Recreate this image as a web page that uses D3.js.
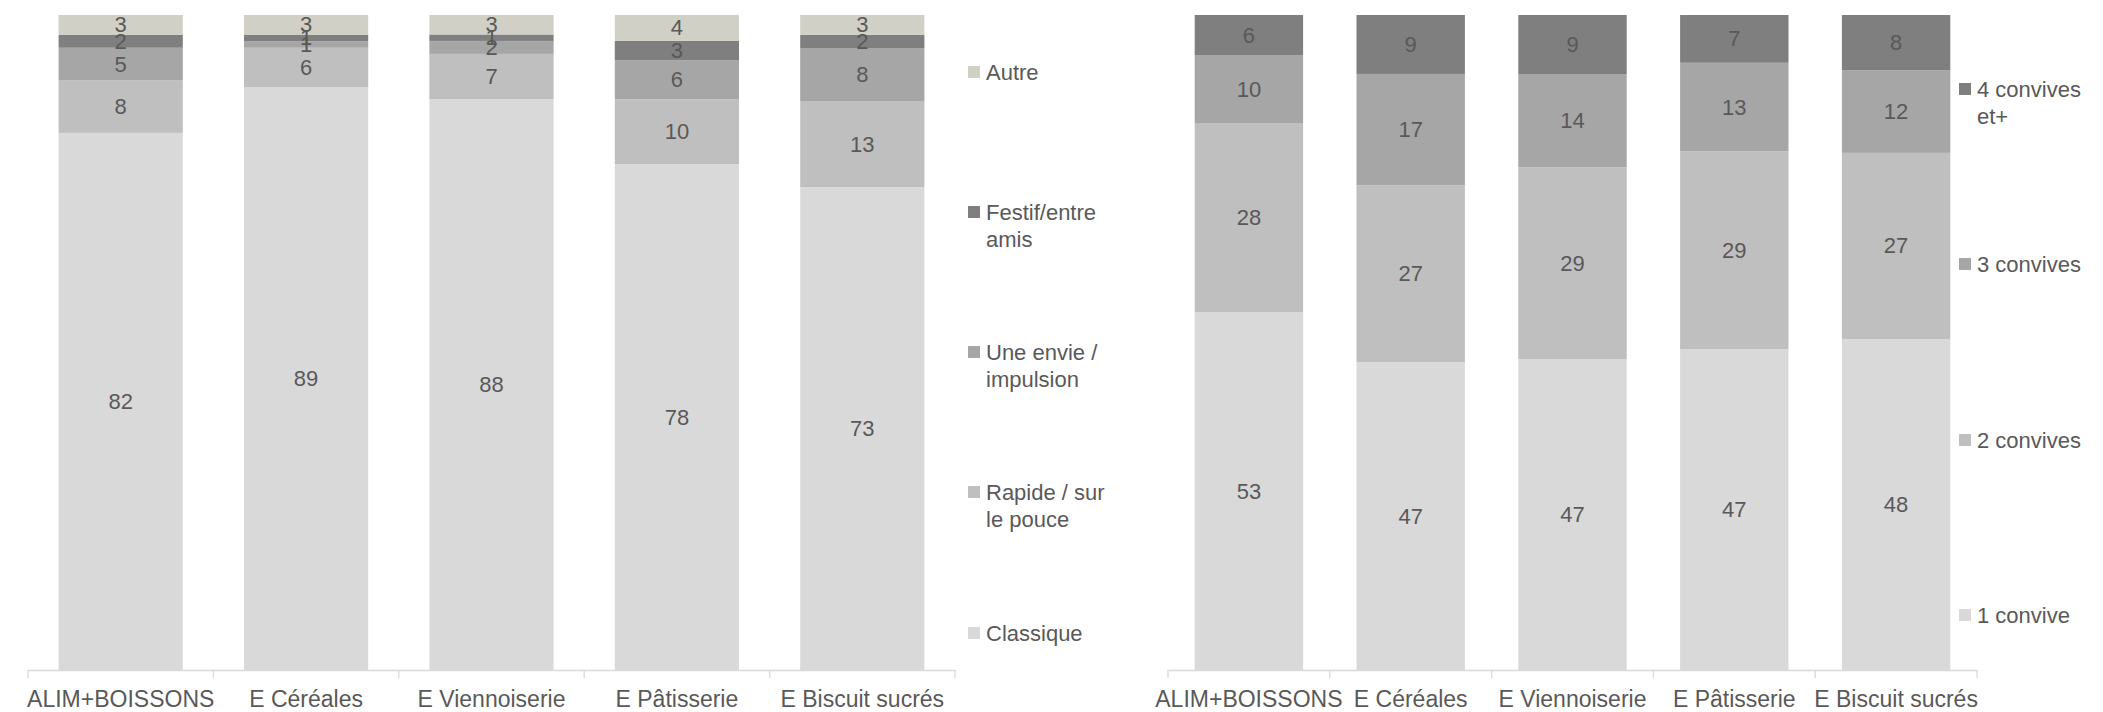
<!DOCTYPE html>
<html>
<head>
<meta charset="utf-8">
<script src="https://cdn.jsdelivr.net/npm/d3@7"></script>
<style>
  html, body { margin: 0; padding: 0; background: #ffffff; }
  svg { display: block; }
  text { font-family: "Liberation Sans", Arial, sans-serif; fill: #595959; }
</style>
</head>
<body>
<svg id="chart" width="2103" height="712"></svg>
<script>
// ---- DATA ----
const categories = ["ALIM+BOISSONS", "E Céréales", "E Viennoiserie", "E Pâtisserie", "E Biscuit sucrés"];

// Chart 1 : occasion
const occasionSeries = ["Classique", "Rapide / sur le pouce", "Une envie / impulsion", "Festif/entre amis", "Autre"];
const classique   = [82, 89, 88, 78, 73];
const rapide      = [8, 6, 7, 10, 13];
const envie       = [5, 1, 2, 6, 8];
const festif      = [2, 1, 1, 3, 2];
const autre       = [3, 3, 3, 4, 3];
const occasionColors = ["#d9d9d9", "#bfbfbf", "#a6a6a6", "#7f7f7f", "#d0d0c6"];

// Chart 2 : convives
const convivesSeries = ["1 convive", "2 convives", "3 convives", "4 convives et+"];
const convive1 = [53, 47, 47, 47, 48];
const convive2 = [28, 27, 29, 29, 27];
const convive3 = [10, 17, 14, 13, 12];
const convive4 = [6, 9, 9, 7, 8];
const convivesColors = ["#d9d9d9", "#bfbfbf", "#a6a6a6", "#7f7f7f"];

// ---- DRAW ----
const svg = d3.select("#chart");
const yTop = 15, yBottom = 670;

function drawChart(opts) {
  const { seriesNames, seriesValues, colors, x0, x1, legendX, legendYs } = opts;
  const rows = categories.map((c, i) => {
    const r = { cat: c };
    seriesNames.forEach((s, j) => r[s] = seriesValues[j][i]);
    return r;
  });
  const stack = d3.stack().keys(seriesNames).offset(d3.stackOffsetExpand)(rows);

  const x = d3.scaleBand().domain(categories).range([x0, x1]).padding(0);
  const y = d3.scaleLinear().domain([0, 1]).range([yBottom, yTop]);
  const barW = x.bandwidth() * 0.67;

  const g = svg.append("g");

  stack.forEach((layer, j) => {
    const lg = g.append("g").attr("fill", colors[j]);
    lg.selectAll("rect").data(layer).enter().append("rect")
      .attr("x", d => x(d.data.cat) + (x.bandwidth() - barW) / 2)
      .attr("width", barW)
      .attr("y", d => y(d[1]))
      .attr("height", d => y(d[0]) - y(d[1]));
  });

  // labels
  stack.forEach((layer, j) => {
    g.append("g").selectAll("text").data(layer).enter().append("text")
      .attr("x", d => x(d.data.cat) + x.bandwidth() / 2)
      .attr("y", d => (y(d[0]) + y(d[1])) / 2)
      .attr("text-anchor", "middle")
      .attr("dominant-baseline", "central")
      .attr("font-size", 22)
      .text(d => d.data[seriesNames[j]]);
  });

  // axis
  const axis = d3.axisBottom(x).tickSize(0).tickPadding(0);
  const ag = g.append("g").attr("transform", `translate(0,${yBottom})`).call(axis);
  ag.select(".domain").attr("stroke", "#d9d9d9").attr("stroke-width", 1.3);
  ag.selectAll(".tick text")
    .attr("y", 37)
    .attr("dy", 0)
    .attr("font-size", 23)
    .attr("font-family", "Liberation Sans, Arial, sans-serif")
    .attr("fill", "#595959");
  const bounds = categories.map(c => x(c)).concat([x1]);
  ag.selectAll("line.sep").data(bounds).enter().append("line")
    .attr("class", "sep")
    .attr("x1", d => d).attr("x2", d => d)
    .attr("y1", 0).attr("y2", 8)
    .attr("stroke", "#d9d9d9").attr("stroke-width", 1.3);

  // legend (reverse order, top = last series)
  const legendItems = seriesNames.slice().reverse();
  const legendColors = colors.slice().reverse();
  legendItems.forEach((name, k) => {
    const cy = legendYs[k];
    g.append("rect")
      .attr("x", legendX - 18).attr("y", cy - 6)
      .attr("width", 12).attr("height", 12)
      .attr("fill", legendColors[k]);
    const t = g.append("text")
      .attr("x", legendX)
      .attr("y", cy)
      .attr("font-size", 22)
      .attr("dominant-baseline", "central");
    // word wrap at maxWidth
    const words = name.split(" ");
    const maxW = 128;
    let line = [];
    let lineNo = 0;
    let tspan = t.append("tspan").attr("x", legendX).attr("dy", 0);
    words.forEach(w => {
      line.push(w);
      tspan.text(line.join(" "));
      if (tspan.node().getComputedTextLength() > maxW && line.length > 1) {
        line.pop();
        tspan.text(line.join(" "));
        line = [w];
        lineNo++;
        tspan = t.append("tspan").attr("x", legendX).attr("dy", 27).text(w);
      }
    });
  });
}

drawChart({
  seriesNames: occasionSeries,
  seriesValues: [classique, rapide, envie, festif, autre],
  colors: occasionColors,
  x0: 28, x1: 955,
  legendX: 986,
  legendYs: [72, 212, 352, 492, 633]
});

drawChart({
  seriesNames: convivesSeries,
  seriesValues: [convive1, convive2, convive3, convive4],
  colors: convivesColors,
  x0: 1168, x1: 1977,
  legendX: 1977,
  legendYs: [89, 264, 440, 615]
});
</script>
</body>
</html>
